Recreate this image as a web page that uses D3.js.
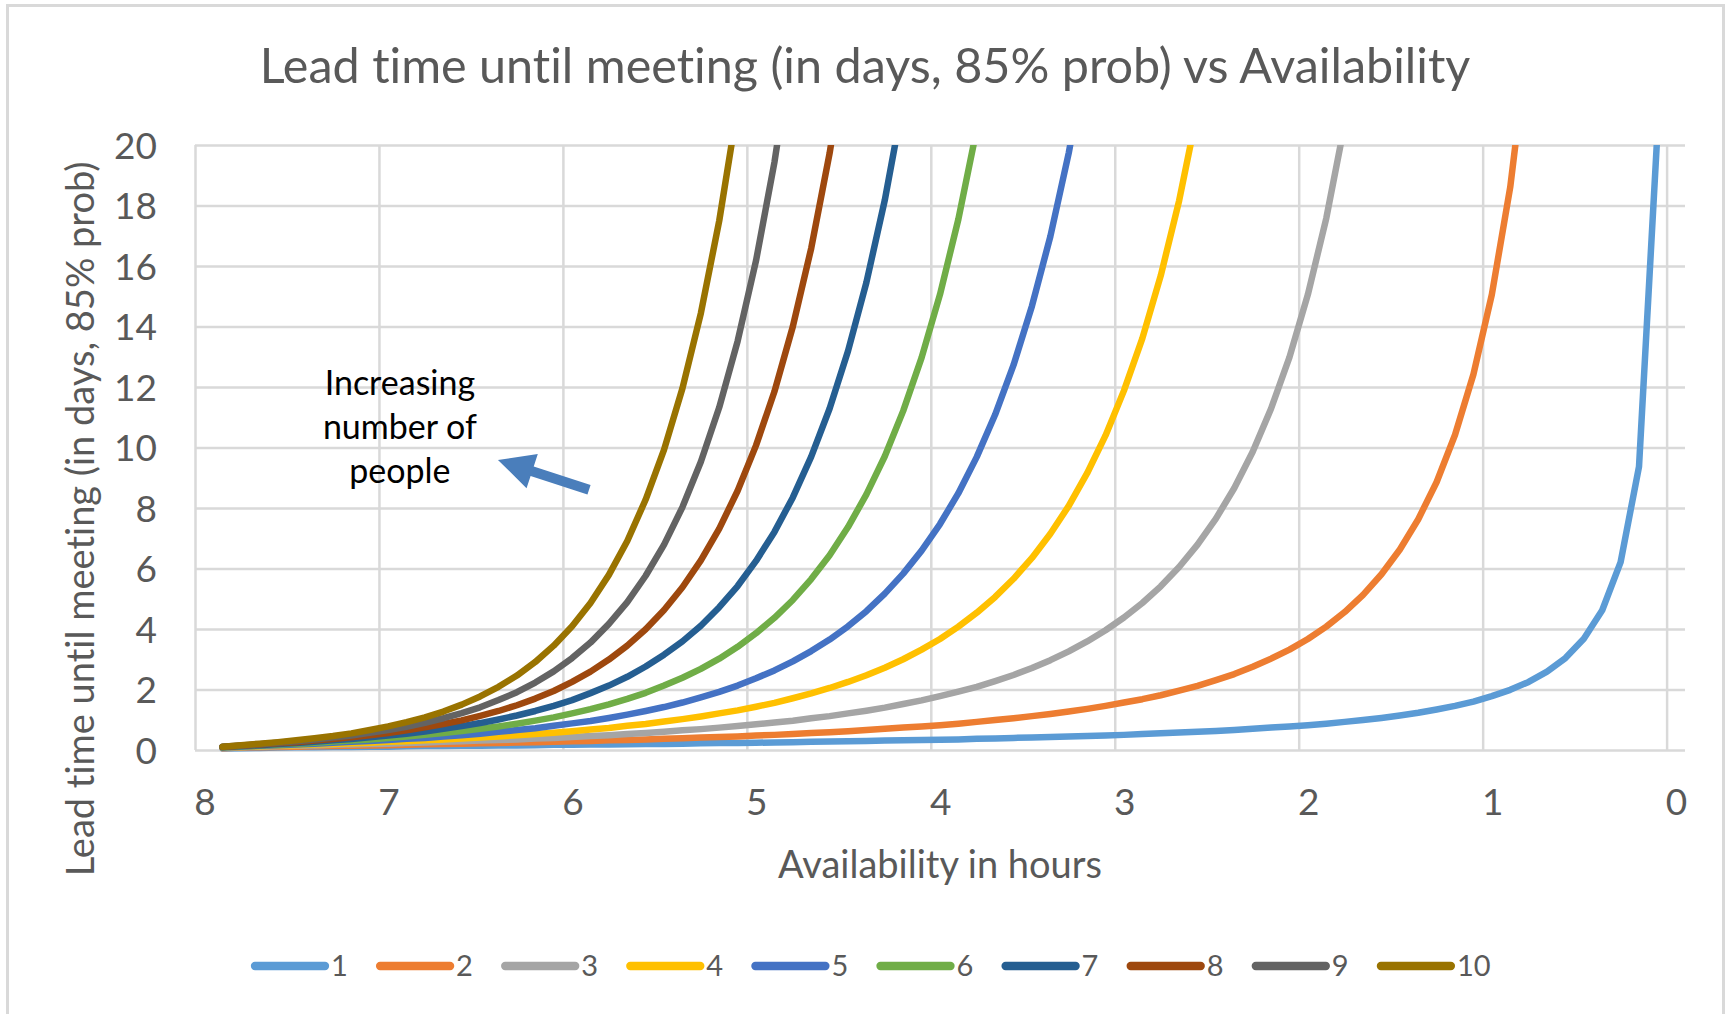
<!DOCTYPE html>
<html>
<head>
<meta charset="utf-8">
<title>Lead time until meeting vs Availability</title>
<script src="https://cdnjs.cloudflare.com/ajax/libs/d3/7.8.5/d3.min.js"></script>
<style>
	html, body { margin: 0; padding: 0; background: #fff; }
	svg { display: block; font-family: Lato, 'Open Sans', sans-serif; font-variant-ligatures: none; }
	.grid line { stroke: #d9d9d9; stroke-width: 2.5; }
	.grid path, .axis path { display: none; }
	.axis text { fill: #595959; font-size: 37px; font-family: Lato, 'Open Sans', sans-serif; }
	.series { fill: none; stroke-width: 6.5; stroke-linejoin: round; stroke-linecap: round; }
</style>
</head>
<body>
<div id="chart"></div>
<script>
	'use strict';

	// hours of availability (x), one point every 0.1 h
	var hours = [7.85, 7.75, 7.65, 7.55, 7.45, 7.35, 7.25, 7.15, 7.05, 6.95, 6.85, 6.75, 6.65, 6.55, 6.45, 6.35, 6.25, 6.15, 6.05, 5.95,
		5.85, 5.75, 5.65, 5.55, 5.45, 5.35, 5.25, 5.15, 5.05, 4.95, 4.85, 4.75, 4.65, 4.55, 4.45, 4.35, 4.25, 4.15, 4.05, 3.95,
		3.85, 3.75, 3.65, 3.55, 3.45, 3.35, 3.25, 3.15, 3.05, 2.95, 2.85, 2.75, 2.65, 2.55, 2.45, 2.35, 2.25, 2.15, 2.05, 1.95,
		1.85, 1.75, 1.65, 1.55, 1.45, 1.35, 1.25, 1.15, 1.05, 0.95, 0.85, 0.75, 0.65, 0.55, 0.45, 0.35, 0.25, 0.15, 0.05];

	// lead time in days, one array per number of people
	var people1 = [0.05, 0.06, 0.07, 0.08, 0.09, 0.09, 0.10, 0.10, 0.11, 0.11, 0.12, 0.13, 0.13, 0.14, 0.14, 0.15, 0.15, 0.16, 0.17, 0.17,
		0.18, 0.18, 0.19, 0.20, 0.20, 0.21, 0.22, 0.23, 0.23, 0.24, 0.25, 0.26, 0.27, 0.28, 0.29, 0.30, 0.31, 0.32, 0.33, 0.34,
		0.35, 0.37, 0.38, 0.40, 0.41, 0.43, 0.45, 0.46, 0.48, 0.50, 0.53, 0.55, 0.58, 0.60, 0.63, 0.66, 0.70, 0.74, 0.78, 0.82,
		0.87, 0.93, 0.99, 1.06, 1.14, 1.23, 1.34, 1.46, 1.60, 1.78, 1.99, 2.25, 2.59, 3.04, 3.68, 4.62, 6.21, 9.37, 20.4];
	var people2 = [0.06, 0.08, 0.09, 0.10, 0.11, 0.12, 0.13, 0.14, 0.15, 0.16, 0.17, 0.19, 0.20, 0.21, 0.22, 0.23, 0.25, 0.26, 0.27, 0.29,
		0.30, 0.32, 0.33, 0.35, 0.37, 0.39, 0.41, 0.43, 0.45, 0.48, 0.50, 0.53, 0.56, 0.59, 0.62, 0.66, 0.70, 0.74, 0.78, 0.82,
		0.87, 0.93, 0.99, 1.05, 1.12, 1.19, 1.27, 1.36, 1.46, 1.57, 1.68, 1.81, 1.96, 2.12, 2.31, 2.51, 2.75, 3.02, 3.32, 3.67,
		4.08, 4.56, 5.13, 5.81, 6.63, 7.63, 8.86, 10.42, 12.42, 15.06, 18.61, 23.6];
	var people3 = [0.07, 0.09, 0.11, 0.12, 0.14, 0.15, 0.17, 0.18, 0.20, 0.21, 0.23, 0.25, 0.27, 0.29, 0.31, 0.33, 0.35, 0.38, 0.40, 0.43,
		0.46, 0.49, 0.53, 0.56, 0.60, 0.65, 0.69, 0.74, 0.79, 0.85, 0.91, 0.97, 1.05, 1.12, 1.21, 1.30, 1.40, 1.52, 1.64, 1.78,
		1.93, 2.09, 2.28, 2.48, 2.71, 2.97, 3.26, 3.59, 3.96, 4.38, 4.86, 5.41, 6.05, 6.79, 7.65, 8.66, 9.86, 11.29, 12.99, 15.06,
		17.58, 20.7];
	var people4 = [0.08, 0.10, 0.12, 0.14, 0.16, 0.18, 0.20, 0.22, 0.24, 0.27, 0.29, 0.32, 0.35, 0.38, 0.41, 0.45, 0.49, 0.53, 0.57, 0.62,
		0.68, 0.73, 0.80, 0.86, 0.94, 1.02, 1.11, 1.21, 1.31, 1.43, 1.56, 1.71, 1.87, 2.05, 2.25, 2.47, 2.72, 3.00, 3.32, 3.67,
		4.08, 4.54, 5.06, 5.66, 6.35, 7.15, 8.07, 9.15, 10.40, 11.88, 13.61, 15.68, 18.16, 21.14];
	var people5 = [0.08, 0.11, 0.14, 0.16, 0.18, 0.21, 0.24, 0.27, 0.30, 0.33, 0.37, 0.40, 0.45, 0.49, 0.54, 0.60, 0.66, 0.72, 0.80, 0.88,
		0.96, 1.06, 1.17, 1.29, 1.42, 1.57, 1.74, 1.92, 2.13, 2.37, 2.63, 2.93, 3.27, 3.65, 4.09, 4.59, 5.17, 5.83, 6.59, 7.47,
		8.49, 9.69, 11.09, 12.73, 14.68, 16.98, 19.74, 23.04];
	var people6 = [0.09, 0.12, 0.15, 0.18, 0.21, 0.24, 0.28, 0.31, 0.35, 0.40, 0.45, 0.50, 0.56, 0.63, 0.70, 0.78, 0.87, 0.97, 1.08, 1.21,
		1.35, 1.51, 1.69, 1.89, 2.13, 2.39, 2.68, 3.02, 3.41, 3.86, 4.37, 4.96, 5.65, 6.44, 7.37, 8.45, 9.71, 11.21, 12.97, 15.06,
		17.55, 20.53];
	var people7 = [0.10, 0.13, 0.16, 0.20, 0.23, 0.27, 0.32, 0.36, 0.42, 0.48, 0.54, 0.61, 0.70, 0.79, 0.89, 1.01, 1.14, 1.29, 1.46, 1.65,
		1.88, 2.13, 2.42, 2.76, 3.15, 3.59, 4.11, 4.72, 5.42, 6.25, 7.21, 8.35, 9.70, 11.29, 13.19, 15.46, 18.18, 21.46];
	var people8 = [0.10, 0.14, 0.18, 0.22, 0.26, 0.31, 0.36, 0.42, 0.49, 0.56, 0.65, 0.75, 0.86, 0.98, 1.13, 1.29, 1.48, 1.70, 1.95, 2.25,
		2.59, 2.99, 3.45, 3.99, 4.63, 5.38, 6.27, 7.32, 8.57, 10.07, 11.85, 14.00, 16.59, 19.73, 23.54];
	var people9 = [0.11, 0.15, 0.19, 0.24, 0.29, 0.35, 0.41, 0.48, 0.57, 0.66, 0.77, 0.90, 1.05, 1.22, 1.41, 1.65, 1.91, 2.23, 2.60, 3.04,
		3.55, 4.17, 4.89, 5.76, 6.79, 8.03, 9.53, 11.33, 13.52, 16.18, 19.43, 23.41];
	var people10 = [0.11, 0.16, 0.21, 0.26, 0.32, 0.39, 0.46, 0.55, 0.66, 0.78, 0.92, 1.08, 1.27, 1.50, 1.77, 2.09, 2.46, 2.91, 3.45, 4.09,
		4.86, 5.79, 6.91, 8.28, 9.93, 11.96, 14.44, 17.50, 21.27];

	var seriesNames = ['1', '2', '3', '4', '5', '6', '7', '8', '9', '10'];
	var seriesColors = ['#5b9bd5', '#ed7d31', '#a5a5a5', '#ffc000', '#4472c4', '#70ad47', '#255e91', '#9e480e', '#636363', '#997300'];
	var seriesValues = [people1, people2, people3, people4, people5, people6, people7, people8, people9, people10];

	var xTicks = [8, 7, 6, 5, 4, 3, 2, 1, 0];
	var yTicks = [0, 2, 4, 6, 8, 10, 12, 14, 16, 18, 20];

	// annotation, in data units: [hours, days]
	var noteLines = ['Increasing', 'number of', 'people'];
	var noteAnchor = [6.886, 11.75];
	var arrowTip = [6.353, 9.59];
	var arrowTail = [5.858, 8.6];

	var width = 1729,
		height = 1014,
		plot = { left: 195, right: 1685, top: 145, bottom: 750 };

	var xScale = d3.scaleLinear().domain([8, -0.1]).range([plot.left, plot.right]),
		yScale = d3.scaleLinear().domain([0, 20]).range([plot.bottom, plot.top]);

	var svg = d3.select('#chart')
		.append('svg')
		.attr('width', width)
		.attr('height', height);

	svg.append('rect')
		.attr('width', width)
		.attr('height', height)
		.attr('fill', '#fff');

	// chart border
	svg.append('rect')
		.attr('x', 7.5)
		.attr('y', 5.5)
		.attr('width', 1716)
		.attr('height', 1030)
		.attr('fill', '#fff')
		.attr('stroke', '#d9d9d9')
		.attr('stroke-width', 3);

	// title
	svg.append('text')
		.attr('x', 865)
		.attr('y', 83)
		.attr('text-anchor', 'middle')
		.attr('fill', '#595959')
		.style('font-size', '48.5px')
		.text('Lead time until meeting (in days, 85% prob) vs Availability');

	// grid lines
	svg.append('g')
		.attr('class', 'grid')
		.attr('transform', 'translate(' + plot.left + ',0)')
		.call(d3.axisLeft(yScale).tickValues(yTicks).tickSize(-(plot.right - plot.left)).tickFormat(''));

	svg.append('g')
		.attr('class', 'grid')
		.attr('transform', 'translate(0,' + plot.bottom + ')')
		.call(d3.axisBottom(xScale).tickValues(xTicks).tickSize(-(plot.bottom - plot.top)).tickFormat(''));

	// axes labels
	svg.append('g')
		.attr('class', 'axis')
		.attr('transform', 'translate(' + plot.left + ',0)')
		.call(d3.axisLeft(yScale).tickValues(yTicks).tickSize(0).tickPadding(38))
		.selectAll('text')
		.attr('dy', '0.36em');

	svg.append('g')
		.attr('class', 'axis')
		.attr('transform', 'translate(0,' + plot.bottom + ')')
		.call(d3.axisBottom(xScale).tickValues(xTicks).tickSize(0).tickPadding(39).tickFormat(d3.format('d')))
		.selectAll('text')
		.attr('x', 9.5);

	svg.append('text')
		.attr('transform', 'translate(94,519) rotate(-90)')
		.attr('text-anchor', 'middle')
		.attr('fill', '#595959')
		.style('font-size', '38px')
		.text('Lead time until meeting (in days, 85% prob)');

	svg.append('text')
		.attr('x', (plot.left + plot.right) / 2)
		.attr('y', 878)
		.attr('text-anchor', 'middle')
		.attr('fill', '#595959')
		.style('font-size', '38px')
		.text('Availability in hours');

	// series
	svg.append('clipPath')
		.attr('id', 'plot-clip')
		.append('rect')
		.attr('x', plot.left - 20)
		.attr('y', plot.top)
		.attr('width', plot.right - plot.left + 40)
		.attr('height', plot.bottom - plot.top + 40);

	var line = d3.line()
		.x(function (d, i) { return xScale(hours[i]); })
		.y(function (d) { return yScale(d); });

	svg.append('g')
		.attr('clip-path', 'url(#plot-clip)')
		.selectAll('path')
		.data(seriesValues)
		.enter()
		.append('path')
		.attr('class', 'series')
		.attr('stroke', function (d, i) { return seriesColors[i]; })
		.attr('d', line);

	// annotation
	var note = svg.append('text')
		.attr('text-anchor', 'middle')
		.attr('fill', '#000')
		.style('font-size', '34px');

	note.selectAll('tspan')
		.data(noteLines)
		.enter()
		.append('tspan')
		.attr('x', xScale(noteAnchor[0]))
		.attr('y', function (d, i) { return yScale(noteAnchor[1]) + i * 44; })
		.text(function (d) { return d; });

	var tip = [xScale(arrowTip[0]), yScale(arrowTip[1])],
		tail = [xScale(arrowTail[0]), yScale(arrowTail[1])],
		dx = tip[0] - tail[0],
		dy = tip[1] - tail[1],
		len = Math.sqrt(dx * dx + dy * dy),
		ux = dx / len,
		uy = dy / len,
		nx = -uy,
		ny = ux,
		headLen = 36,
		headHalf = 18,
		shaftHalf = 5,
		base = [tip[0] - ux * headLen, tip[1] - uy * headLen];

	var arrowPoints = [
		[tail[0] + nx * shaftHalf, tail[1] + ny * shaftHalf],
		[base[0] + nx * shaftHalf, base[1] + ny * shaftHalf],
		[base[0] + nx * headHalf, base[1] + ny * headHalf],
		tip,
		[base[0] - nx * headHalf, base[1] - ny * headHalf],
		[base[0] - nx * shaftHalf, base[1] - ny * shaftHalf],
		[tail[0] - nx * shaftHalf, tail[1] - ny * shaftHalf]
	];

	svg.append('path')
		.attr('d', 'M' + arrowPoints.map(function (p) { return p.join(','); }).join('L') + 'Z')
		.attr('fill', '#4a7ebb');

	// legend
	var legend = svg.append('g')
		.selectAll('g')
		.data(seriesNames)
		.enter()
		.append('g')
		.attr('transform', function (d, i) { return 'translate(' + (255 + i * 125.1) + ',966)'; });

	legend.append('line')
		.attr('x1', 0)
		.attr('x2', 70)
		.attr('stroke', function (d, i) { return seriesColors[i]; })
		.attr('stroke-width', 8.3)
		.attr('stroke-linecap', 'round');

	legend.append('text')
		.attr('x', 76)
		.attr('y', 10)
		.attr('fill', '#595959')
		.style('font-size', '29px')
		.text(function (d) { return d; });
</script>
</body>
</html>
